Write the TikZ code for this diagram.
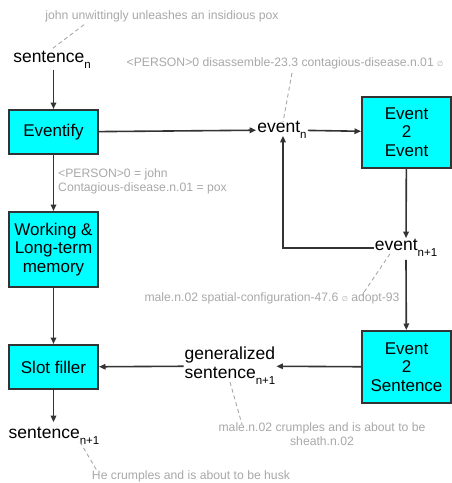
\documentclass[tikz,border=0pt]{standalone}
\usepackage{fontspec}
\setmainfont{Liberation Sans}
\newfontfamily\symfont{DejaVu Sans}
\usetikzlibrary{arrows.meta}
\definecolor{linegray}{HTML}{333333}
\definecolor{notegray}{HTML}{A8A8A8}
\definecolor{boxcyan}{RGB}{0,255,255}
\newcommand{\sub}[1]{\raisebox{-6pt}{\fontsize{11.5}{12}\selectfont #1}}
\newcommand{\nil}{{\symfont\fontsize{7}{8}\selectfont ∅}}
\tikzset{
    box/.style={draw=linegray, line width=2pt, fill=boxcyan, minimum width=89pt,
        align=center, inner sep=0pt, font=\fontsize{17}{18.5}\selectfont},
    word/.style={inner sep=1pt, align=left, font=\fontsize{17.5}{19}\selectfont},
    note/.style={text=notegray, inner sep=0pt, font=\fontsize{12.2}{14}\selectfont},
    arr/.style={-{Triangle[length=6.5pt,width=5.5pt]}, draw=linegray, line width=1.6pt},
    noteline/.style={draw=notegray, dashed, dash pattern=on 4pt off 3pt, line width=0.9pt}
}
\begin{document}
\begin{tikzpicture}[x=1pt, y=-1pt]
    \useasboundingbox (0,0) rectangle (451,483);
    % boxes
    \node[box, minimum height=44pt] (eventify) at (53.5,132) {Eventify};
    \node[box, minimum height=75pt] (memory) at (53.5,249.5) {Working \&\\Long-term\\memory};
    \node[box, minimum height=44pt] (slot) at (53.5,367) {Slot filler};
    \node[box, minimum height=71pt] (evev) at (406.5,132) {Event\\2\\Event};
    \node[box, minimum height=72pt] (evsent) at (406.5,367) {Event\\2\\Sentence};
    % words
    \node[word] (sentn) at (52,60) {sentence\sub{n}};
    \node[word] (eventn) at (282,130) {event\sub{n}};
    \node[word] (eventnn) at (406,248) {event\sub{n+1}};
    \node[word] (gensent) at (230,366) {generalized\\sentence\sub{n+1}};
    \node[word] (sentnn) at (54,436) {sentence\sub{n+1}};
    % notes
    \node[note] (note1) at (162,16) {john unwittingly unleashes an insidious pox};
    \node[note] (note2) at (285,63) {<PERSON>0 disassemble-23.3 contagious-disease.n.01 \nil};
    \node[note, anchor=west, align=left] (note3) at (58,181) {<PERSON>0 = john\\Contagious-disease.n.01 = pox};
    \node[note] (note4) at (272,298) {male.n.02 spatial-configuration-47.6 \nil{} adopt-93};
    \node[note, align=center] (note5) at (322,434) {male.n.02 crumples and is about to be\\sheath.n.02};
    \node[note] (note6) at (191,476) {He crumples and is about to be husk};
    % arrows
    \draw[arr] (sentn.south -| eventify) -- (eventify);
    \draw[arr] (eventify) -- (eventn);
    \draw[arr] (eventn) -- (evev);
    \draw[arr] (evev) -- (eventnn);
    \draw[arr] ([yshift=-2pt]eventnn.south) -- (evsent);
    \draw[arr] (eventnn.west) -| ([xshift=1pt,yshift=4pt]eventn.south);
    \draw[arr] (evsent) -- (gensent);
    \draw[arr] (gensent) -- (slot);
    \draw[arr] (eventify) -- (memory);
    \draw[arr] (memory) -- (slot);
    \draw[arr] (slot) -- ([yshift=4pt]sentnn.north -| slot);
    % note leaders
    \draw[noteline] ([xshift=1pt,yshift=2pt]sentn.north) -- ([xshift=40pt,yshift=-2pt]note1.south west);
    \draw[noteline] ([xshift=7pt,yshift=-4pt]note2.south) -- ([xshift=1pt,yshift=-2pt]eventn.north);
    \draw[noteline] ([xshift=-16pt,yshift=4pt]eventnn.south) -- ([xshift=90pt,yshift=-3pt]note4.north);
    \draw[noteline] ([yshift=4pt]gensent.south) -- ([xshift=-80pt,yshift=-2pt]note5.north);
    \draw[noteline] ([xshift=26pt,yshift=4pt]sentnn.south) -- ([xshift=6pt,yshift=-2pt]note6.north west);
\end{tikzpicture}
\end{document}
